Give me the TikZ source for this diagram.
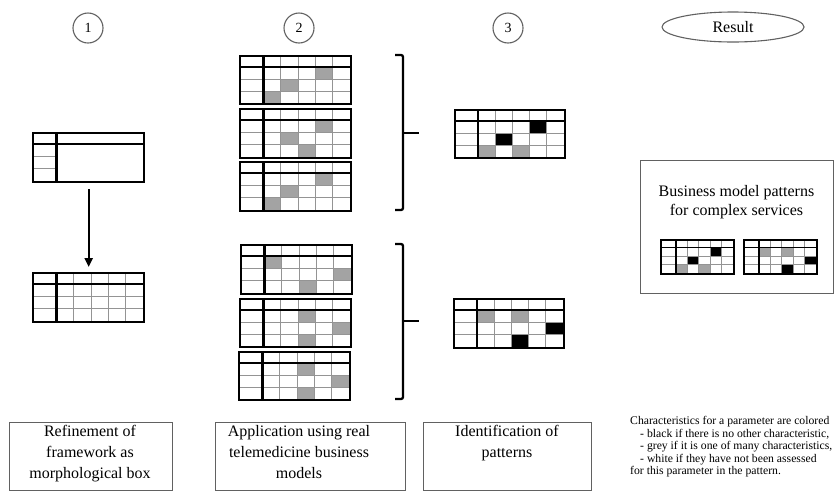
\documentclass[tikz,border=0pt]{standalone}
\usepackage{fontspec}
\setmainfont{Liberation Serif}
\usetikzlibrary{shapes.geometric,arrows.meta,calc}
\colorlet{cg}{black!36}
\colorlet{cb}{black}
\colorlet{linegray}{black!62}
\tikzset{
  thinln/.style={line width=0.8pt, black!42},
  stepnum/.style={draw=linegray, line width=1.1pt, circle, minimum size=30pt, inner sep=0pt, font=\fontsize{14}{16}\selectfont},
  resell/.style={draw=linegray, line width=1.1pt, ellipse, minimum width=142pt, minimum height=30pt, inner sep=0pt, font=\fontsize{16}{18}\selectfont},
  labbox/.style={draw=linegray, line width=1.1pt, inner sep=0pt, anchor=north west},
  labtext/.style={align=center, inner sep=0pt, anchor=north, font=\fontsize{16}{21}\selectfont},
  bracketln/.style={line width=2.3pt, black, rounded corners=2pt},
  flowarrow/.style={line width=2.2pt, -{Triangle[length=9pt,width=8pt]}, shorten <=6pt, shorten >=5pt},
}
% #1 name, #2 x, #3 y, #4 W, #5 H, #6 fills c/r/colour, #7 border width
\newcommand{\mgrid}[7]{%
  \begin{scope}[shift={(#2,#3)}]
    \pgfmathsetmacro{\mgLc}{0.22*#4}
    \pgfmathsetmacro{\mgDw}{(#4-\mgLc)/5}
    \pgfmathsetmacro{\mgRh}{#5/4}
    \foreach \c/\r/\col in {#6} {\fill[\col] ({\mgLc+(\c-1)*\mgDw},{\r*\mgRh}) rectangle ++(\mgDw,\mgRh);}
    \foreach \i in {1,...,4} {\draw[thinln] ({\mgLc+\i*\mgDw},0) -- ({\mgLc+\i*\mgDw},#5);}
    \foreach \j in {2,3} {\draw[thinln] (0,{\j*\mgRh}) -- (#4,{\j*\mgRh});}
    \draw[line width=#7] (0,\mgRh) -- (#4,\mgRh);
    \draw[line width=#7] (\mgLc,0) -- (\mgLc,#5);
    \node[draw, line width=#7, inner sep=0pt, anchor=north west, minimum width=#4pt, minimum height=#5pt] (#1) at (0,0) {};
  \end{scope}}
\begin{document}
\begin{tikzpicture}[x=1pt,y=-1pt]
\useasboundingbox (0,0) rectangle (837,491);

% step markers
\node[stepnum] (s1) at (88,28) {1};
\node[stepnum] (s2) at (299,28) {2};
\node[stepnum] (s3) at (508,28) {3};
\node[resell] (res) at (733,27) {Result};

% column 1: framework
\begin{scope}[shift={(32,132)}]
  \draw[thinln] (0,24.5) -- (24.4,24.5);
  \draw[thinln] (0,36.75) -- (24.4,36.75);
  \draw[line width=2.4pt] (0,12.25) -- (111,12.25);
  \draw[line width=2.4pt] (24.4,0) -- (24.4,49);
  \node[draw, line width=2.4pt, inner sep=0pt, anchor=north west, minimum width=111pt, minimum height=49pt] (fa) at (0,0) {};
\end{scope}
\mgrid{fb}{32}{272}{111}{49}{1/1/white}{2.4pt}
\draw[flowarrow] (fa) -- (fb);

% column 2: business models
\mgrid{m1}{239}{55}{111}{48}{4/1/cg,2/2/cg,1/3/cg}{2.4pt}
\mgrid{m2}{239}{108}{111}{49}{4/1/cg,2/2/cg,3/3/cg}{2.4pt}
\mgrid{m3}{239}{161}{111}{49}{4/1/cg,2/2/cg,1/3/cg}{2.4pt}
\mgrid{m4}{240}{244}{111}{49}{1/1/cg,5/2/cg,3/3/cg}{2.4pt}
\mgrid{m5}{239}{298}{111}{48}{3/1/cg,5/2/cg,3/3/cg}{2.4pt}
\mgrid{m6}{238}{351}{111}{48}{3/1/cg,5/2/cg,3/3/cg}{2.4pt}

% brackets
\coordinate (bra1t) at (395,55);
\coordinate (bra1b) at (395,210);
\coordinate (bra1m) at (403,133);
\coordinate (bra1e) at (419,133);
\draw[bracketln] (bra1t) -- (403,55) -- (403,210) -- (bra1b);
\draw[line width=2.3pt] (bra1m) -- (bra1e);
\coordinate (bra2t) at (395,244);
\coordinate (bra2b) at (395,399);
\coordinate (bra2m) at (403,321);
\coordinate (bra2e) at (419,321);
\draw[bracketln] (bra2t) -- (403,244) -- (403,399) -- (bra2b);
\draw[line width=2.3pt] (bra2m) -- (bra2e);

% column 3: patterns
\mgrid{p1}{454}{109}{110}{48}{4/1/cb,2/2/cb,1/3/cg,3/3/cg}{2.4pt}
\mgrid{p2}{453}{298}{110}{49}{1/1/cg,3/1/cg,5/2/cb,3/3/cb}{2.4pt}

% result box
\node[labbox, minimum width=193pt, minimum height=133pt] (rbox) at (640,160) {};
\node[labtext, font=\fontsize{16}{19}\selectfont] (rtext) at (736.5,185) {Business model patterns\\for complex services};
\mgrid{r1}{660}{239}{73}{34}{4/1/cb,2/2/cb,1/3/cg,3/3/cg}{1.9pt}
\mgrid{r2}{743}{239}{73}{34}{1/1/cg,3/1/cg,5/2/cb,3/3/cb}{1.9pt}

% bottom labels
\node[labbox, minimum width=163pt, minimum height=68pt] (b1) at (9,422) {};
\node[labtext] (b1t) at (90,425) {Refinement of\\framework as\\morphological box};
\node[labbox, minimum width=190pt, minimum height=68pt] (b2) at (215,422) {};
\node[labtext] (b2t) at (299,425) {Application using real\\telemedicine business\\models};
\node[labbox, minimum width=168pt, minimum height=68pt] (b3) at (423,422) {};
\node[labtext] (b3t) at (507,425) {Identification of\\patterns};

% legend
\node[anchor=north west, align=left, inner sep=0pt, font=\fontsize{11.7}{12.5}\selectfont] (legend) at (630,416.5)
  {Characteristics for a parameter are colored\\
   \hspace*{10pt}- black if there is no other characteristic,\\
   \hspace*{10pt}- grey if it is one of many characteristics,\\
   \hspace*{10pt}- white if they have not been assessed\\
   for this parameter in the pattern.};
\end{tikzpicture}
\end{document}
